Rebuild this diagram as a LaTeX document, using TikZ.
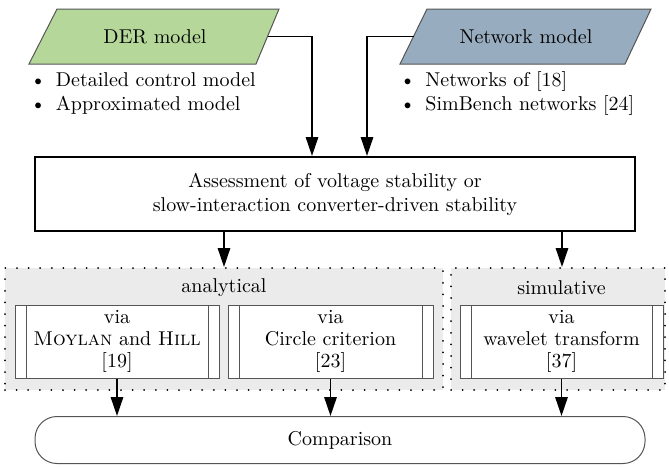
\documentclass[tikz,border=0pt]{standalone}
\usetikzlibrary{arrows.meta,calc}
\definecolor{dergreen}{RGB}{181,216,154}
\definecolor{netblue}{RGB}{151,172,190}
\definecolor{grpgray}{RGB}{235,235,235}
\definecolor{edgegray}{RGB}{85,85,85}
\begin{document}
\begin{tikzpicture}[x=0.5pt,y=-0.5pt,font=\fontsize{10}{12}\selectfont,
  arr/.style={line width=0.9pt,-{Triangle[length=9.5pt,width=6.2pt]}},
  para/.style={draw=edgegray,line width=0.5pt},
  mainbox/.style={draw=black,line width=1pt,align=center,minimum width=300pt,minimum height=37pt,inner sep=0pt},
  grp/.style={fill=grpgray,draw=black,line width=1pt,line cap=round,dash pattern=on 0pt off 5.8pt,inner sep=0pt,minimum height=61pt},
  proc/.style={draw=edgegray,fill=white,line width=0.5pt,align=center,inner sep=0pt,minimum height=36.5pt,
    font=\fontsize{10}{11}\selectfont,
    path picture={
      \draw[edgegray,line width=0.5pt] ([xshift=5.5pt]path picture bounding box.north west) -- ([xshift=5.5pt]path picture bounding box.south west);
      \draw[edgegray,line width=0.5pt] ([xshift=-5.5pt]path picture bounding box.north east) -- ([xshift=-5.5pt]path picture bounding box.south east);
    }},
  lbl/.style={anchor=base west,inner sep=0pt},
  term/.style={draw=edgegray,line width=0.5pt,rounded corners=11pt,minimum width=305pt,minimum height=23.5pt,inner sep=0pt}]
\useasboundingbox (0,0) rectangle (669,466);
% DER model
\draw[para,fill=dergreen] (57,9) -- (279,9) -- (256,64) -- (29,64) -- cycle;
\node (der) at (155,37) {DER model};
\coordinate (derR) at (267.5,36.5);
\node[lbl] (der1) at (30,86) {\textbullet\hspace{5pt}Detailed control model};
\node[lbl] (der2) at (30,110) {\textbullet\hspace{5pt}Approximated model};
% Network model
\draw[para,fill=netblue] (427,9) -- (651,9) -- (625,64) -- (400,64) -- cycle;
\node (net) at (526,37) {Network model};
\coordinate (netL) at (413.5,36.5);
\node[lbl] (net1) at (399.5,86) {\textbullet\hspace{5pt}Networks of [18]};
\node[lbl] (net2) at (399.5,110) {\textbullet\hspace{5pt}SimBench networks [24]};
% main box
\node[mainbox] (assess) at (335,194) {Assessment of voltage stability or\\slow-interaction converter-driven stability};
\draw[arr] (derR) -| ([xshift=-11.5pt]assess.north);
\draw[arr] (netL) -| ([xshift=16pt]assess.north);
% groups
\node[grp,minimum width=219pt] (ana) at (224,329) {};
\node[grp,minimum width=107pt] (sim) at (558,329) {};
\node (analbl) at (224,288) {analytical};
\node (simlbl) at (561.5,288) {simulative};
\draw[arr] (assess.south -| ana.north) -- (ana.north);
\draw[arr] ([xshift=2pt]assess.south -| sim.north) -- ([xshift=2pt]sim.north);
% process boxes
\node[proc,minimum width=102pt] (b1) at (117,341.5) {via\\\textsc{Moylan} and \textsc{Hill}\\{[19]}};
\node[proc,minimum width=102.5pt] (b2) at (330.5,341.5) {via\\Circle criterion\\{[23]}};
\node[proc,minimum width=101.5pt] (b3) at (561.5,341.5) {via\\wavelet transform\\{[37]}};
% comparison
\node[term] (comp) at (340,440) {Comparison};
\draw[arr] (b1.south) -- (b1.south |- comp.north);
\draw[arr] (b2.south) -- (b2.south |- comp.north);
\draw[arr] (b3.south) -- (b3.south |- comp.north);
\end{tikzpicture}
\end{document}
